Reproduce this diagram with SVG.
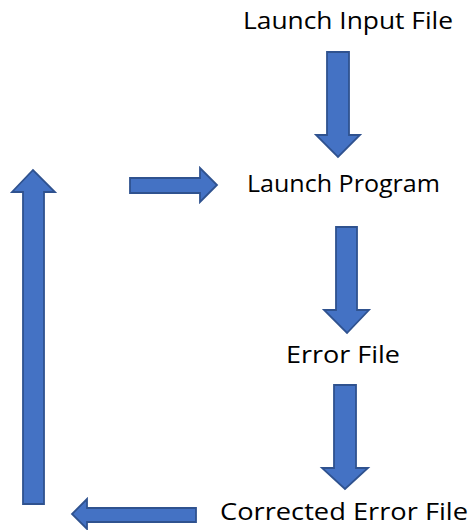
<svg xmlns="http://www.w3.org/2000/svg" width="469" height="530" viewBox="0 0 469 530">
<style>
.arr{fill:#4472C4;stroke:#2F528F;stroke-width:1.8;stroke-linejoin:miter}
.lbl{font-family:"Open Sans","Liberation Sans",sans-serif;font-size:23px;font-weight:400;fill:#000}
</style>
<rect width="469" height="530" fill="#fff"/>
<g id="launch-input-file"><text class="lbl" x="243" y="29" textLength="210" lengthAdjust="spacingAndGlyphs">Launch Input File</text></g>
<g id="launch-program"><text class="lbl" x="247" y="192" textLength="193" lengthAdjust="spacingAndGlyphs">Launch Program</text></g>
<g id="error-file"><text class="lbl" x="286" y="363" textLength="114" lengthAdjust="spacingAndGlyphs">Error File</text></g>
<g id="corrected-error-file"><text class="lbl" x="220" y="520" textLength="248" lengthAdjust="spacingAndGlyphs">Corrected Error File</text></g>
<g id="connectors">
<polygon class="arr" points="327,52 349,52 349,135 360,135 338,157 316,135 327,135"/>
<polygon class="arr" points="130,178 200,178 200,168 217,185 200,202 200,193 130,193"/>
<polygon class="arr" points="336,227 357,227 357,310 369,310 347,333 324,310 336,310"/>
<polygon class="arr" points="334,385 356,385 356,468 368,468 345,489 322,468 334,468"/>
<polygon class="arr" points="23,504 44,504 44,192 55,192 33,170 12,192 23,192"/>
<polygon class="arr" points="196,508 87,508 87,499 72,514 87,529 87,522 196,522"/>
</g>
</svg>
